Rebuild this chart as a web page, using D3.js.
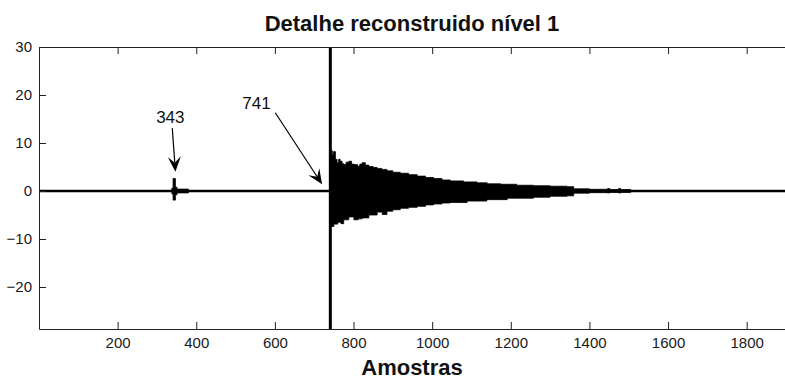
<!DOCTYPE html>
<html>
<head>
<meta charset="utf-8">
<script src="https://cdn.jsdelivr.net/npm/d3@7"></script>
<style>
  body{margin:0;background:#fff;}
  svg{display:block;font-family:Arial,"Liberation Sans",sans-serif;}
  .tick text{fill:#1a1a1a;font-size:15px;}
  .tick line,.domain{stroke:#222;}
</style>
</head>
<body>
<svg id="chart" width="785" height="381"></svg>
<script>
//data------------------------------------------------
var titleText='Detalhe reconstruido nível 1';
var xLabel='Amostras';
var xDomain=[0,1900];
var yDomain=[-28.75,30];
var xTicks=[200,400,600,800,1000,1200,1400,1600,1800];
var yTicks=[-20,-10,0,10,20,30];

// upper and lower envelope of the signal [sample, value]
var burstTop=[[0,0],[336,0],[338,0.6],[341,2.6],[347,0.8],[351,0.4],[380,0],
  [742,8.4],[746,7.6],[749,8.2],[754,6.6],[758,5.9],[762,6.6],[766,6.2],[771,5.7],[775,5.5],
  [781,6.0],[788,6.2],[795,5.6],[801,5.5],[810,5.2],[816,5.6],[822,5.9],[830,5.4],[839,5.1],
  [850,4.9],[860,4.7],[872,4.5],[885,4.2],[900,3.9],[919,3.7],[940,3.4],[962,3.1],[983,2.8],
  [1004,2.6],[1025,2.3],[1046,2.1],[1080,1.9],[1114,1.7],[1140,1.5],[1174,1.4],[1215,1.2],
  [1258,1.1],[1300,1.0],[1343,0.9],[1360,0.45],[1400,0.35],[1446,0.5],[1452,0.3],[1474,0.5],[1480,0.3],[1505,0],[1900,0]];
var burstBottom=[[0,0],[336,0],[338,-0.6],[341,-1.9],[347,-0.8],[351,-0.4],[380,0],
  [742,-7.4],[750,-6.9],[760,-6.5],[768,-6.8],[775,-6.0],[788,-5.4],[801,-6.0],[812,-5.8],
  [822,-5.6],[839,-5.0],[860,-4.4],[873,-4.9],[885,-4.2],[900,-3.9],[919,-3.6],[940,-3.4],
  [962,-3.2],[983,-2.9],[1004,-2.7],[1025,-2.5],[1046,-2.4],[1089,-2.1],[1139,-1.8],[1191,-1.5],
  [1258,-1.3],[1300,-1.1],[1343,-1.0],[1360,-0.45],[1400,-0.35],[1446,-0.4],[1452,-0.3],[1474,-0.4],[1480,-0.3],[1505,0],[1900,0]];
var baseline=[[0,0],[1900,0]];
var spikeSample=741;
var spikeAmp=60;

// annotations: label, text position, arrow tail, arrow tip (sample, value)
var annLabels=['343','741'];
var annText=[[334,15.4],[553,18.3]];
var annFrom=[[339,13.1],[601,16.3]];
var annTo=[[347,4.0],[720,1.4]];

//layout-----------------------------------------
var svg=d3.select('#chart');
var pLeft=39, pRight=786, pTop=47, pBottom=329;

var x=d3.scaleLinear().domain(xDomain).range([pLeft,pRight]);
var y=d3.scaleLinear().domain(yDomain).range([pBottom,pTop]);

svg.append('defs').append('clipPath').attr('id','plotclip')
  .append('rect').attr('x',pLeft).attr('y',pTop).attr('width',pRight-pLeft).attr('height',pBottom-pTop);

var plot=svg.append('g').attr('clip-path','url(#plotclip)');

var area=d3.area().x(d=>x(d[0])).y0(y(0)).y1(d=>y(d[1])).curve(d3.curveStepAfter);

plot.append('path').datum(burstTop).attr('d',area)
  .attr('fill','#000').attr('stroke','#000').attr('stroke-width',0.8);
plot.append('path').datum(burstBottom).attr('d',area)
  .attr('fill','#000').attr('stroke','#000').attr('stroke-width',0.8);

var line=d3.line().x(d=>x(d[0])).y(d=>y(d[1]));
plot.append('path').datum(baseline).attr('d',line)
  .attr('fill','none').attr('stroke','#000').attr('stroke-width',2.5);

plot.append('line')
  .attr('x1',x(spikeSample)).attr('x2',x(spikeSample))
  .attr('y1',y(-spikeAmp)).attr('y2',y(spikeAmp))
  .attr('stroke','#000').attr('stroke-width',3);

//axes
svg.append('g').attr('transform','translate(0,'+pBottom+')')
  .call(d3.axisBottom(x).tickValues(xTicks).tickFormat(d3.format('d')).tickSizeInner(-7).tickSizeOuter(0).tickPadding(8));
svg.append('g').attr('transform','translate(0,'+pTop+')')
  .call(d3.axisTop(x).tickValues(xTicks).tickSizeInner(-7).tickSizeOuter(0).tickFormat(''));
svg.append('g').attr('transform','translate('+pLeft+',0)')
  .call(d3.axisLeft(y).tickValues(yTicks).tickFormat(d3.format('d')).tickSizeInner(-7).tickSizeOuter(0).tickPadding(7));
svg.selectAll('.tick text').attr('font-size',null).attr('font-family',null);

//annotations
annLabels.forEach((lab,i)=>{
  svg.append('text')
    .attr('x',x(annText[i][0])).attr('y',y(annText[i][1]))
    .attr('text-anchor','middle').attr('dominant-baseline','central')
    .attr('font-size',17).attr('fill','#111').text(lab);
  var x0=x(annFrom[i][0]), y0=y(annFrom[i][1]);
  var x1=x(annTo[i][0]), y1=y(annTo[i][1]);
  var ang=Math.atan2(y1-y0,x1-x0);
  var len=15, hw=6.5, back=9;
  svg.append('line').attr('x1',x0).attr('y1',y0)
    .attr('x2',x1-Math.cos(ang)*back).attr('y2',y1-Math.sin(ang)*back)
    .attr('stroke','#000').attr('stroke-width',1.2);
  var c=Math.cos(ang), s=Math.sin(ang);
  var pts=[[x1,y1],
    [x1-c*len-s*hw, y1-s*len+c*hw],
    [x1-c*back, y1-s*back],
    [x1-c*len+s*hw, y1-s*len-c*hw]];
  svg.append('path').attr('d','M'+pts.map(p=>p.join(',')).join('L')+'Z').attr('fill','#000');
});

//titles
svg.append('text').attr('x',(pLeft+785)/2).attr('y',31)
  .attr('text-anchor','middle').attr('font-size',22).attr('font-weight','bold')
  .attr('fill','#111').text(titleText);
svg.append('text').attr('x',(pLeft+785)/2).attr('y',375)
  .attr('text-anchor','middle').attr('font-size',22).attr('font-weight','bold')
  .attr('fill','#111').text(xLabel);
</script>
</body>
</html>
